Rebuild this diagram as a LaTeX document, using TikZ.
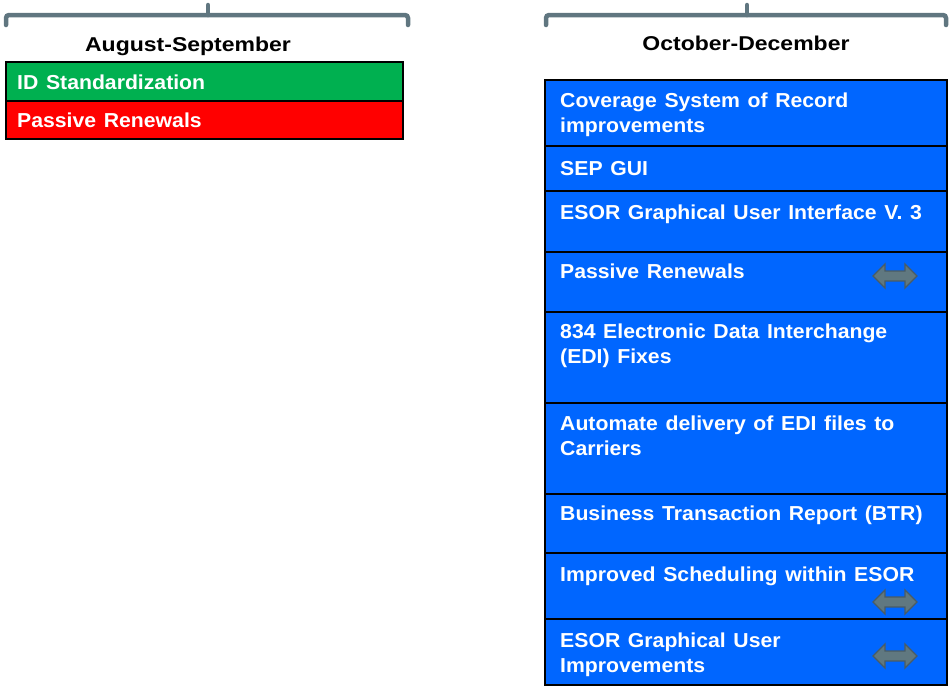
\documentclass[tikz,border=0pt]{standalone}
\usepackage{fontspec}
\usetikzlibrary{shapes.arrows}
\newfontfamily\boxfont{Liberation Sans}[FakeStretch=1.05,WordSpace=1.3]
\newfontfamily\headfont{Liberation Sans}[FakeStretch=1.15]
\definecolor{bluebox}{RGB}{0,102,255}
\definecolor{greenbox}{RGB}{0,176,80}
\definecolor{redbox}{RGB}{255,0,0}
\definecolor{bracegray}{RGB}{96,118,128}
\definecolor{arrowfill}{RGB}{96,120,128}
\definecolor{arrowline}{RGB}{74,92,100}
\begin{document}
\begin{tikzpicture}[x=1pt,y=-1pt,
  brace/.style={draw=bracegray,line width=4.5pt,line cap=round,rounded corners=3pt},
  head/.style={font=\headfont\bfseries\fontsize{20}{24}\selectfont,anchor=base,inner sep=0pt},
  cell/.style={rectangle,draw=black,line width=2pt,inner sep=0pt,outer sep=0pt,anchor=north west},
  txt/.style={anchor=base west,inner sep=0pt,text=white,font=\boxfont\bfseries\fontsize{20.2}{25.5}\selectfont},
  dblarrow/.style={double arrow,draw=arrowline,fill=arrowfill,line width=1.3pt,minimum height=44pt,inner sep=4.3pt,double arrow head extend=7pt}
]
\useasboundingbox (0,0) rectangle (949,686);

% braces
\draw[brace] (6,25) -- (6,15) -- (408,15) -- (408,25);
\draw[brace] (208,15) -- (208,5);
\draw[brace] (546,25) -- (546,15) -- (946,15) -- (946,25);
\draw[brace] (747,15) -- (747,5);

% headings
\node[head] (h1) at (188,51) {August-September};
\node[head] (h2) at (746,50) {October-December};

% left column
\node[cell,fill=greenbox,minimum width=397pt,minimum height=39pt] (l1) at (6,62) {};
\node[cell,fill=redbox,minimum width=397pt,minimum height=38pt] (l2) at (6,101) {};
\node[txt] (lt1) at ([xshift=11pt,yshift=-27pt]l1.north west) {ID Standardization};
\node[txt] (lt2) at ([xshift=11pt,yshift=-26pt]l2.north west) {Passive Renewals};

% right column
\node[cell,fill=bluebox,minimum width=402pt,minimum height=66pt] (c1) at (545,80) {};
\node[cell,fill=bluebox,minimum width=402pt,minimum height=45pt] (c2) at (545,146) {};
\node[cell,fill=bluebox,minimum width=402pt,minimum height=61pt] (c3) at (545,191) {};
\node[cell,fill=bluebox,minimum width=402pt,minimum height=60pt] (c4) at (545,252) {};
\node[cell,fill=bluebox,minimum width=402pt,minimum height=91pt] (c5) at (545,312) {};
\node[cell,fill=bluebox,minimum width=402pt,minimum height=91pt] (c6) at (545,403) {};
\node[cell,fill=bluebox,minimum width=402pt,minimum height=59pt] (c7) at (545,494) {};
\node[cell,fill=bluebox,minimum width=402pt,minimum height=66pt] (c8) at (545,553) {};
\node[cell,fill=bluebox,minimum width=402pt,minimum height=66pt] (c9) at (545,619) {};

\node[txt] (t1) at ([xshift=15pt,yshift=-27pt]c1.north west) {\parbox[t]{385pt}{\raggedright Coverage System of Record\\improvements}};
\node[txt] (t2) at ([xshift=15pt,yshift=-29pt]c2.north west) {SEP GUI};
\node[txt] (t3) at ([xshift=15pt,yshift=-28pt]c3.north west) {ESOR Graphical User Interface V. 3};
\node[txt] (t4) at ([xshift=15pt,yshift=-26pt]c4.north west) {Passive Renewals};
\node[txt] (t5) at ([xshift=15pt,yshift=-26pt]c5.north west) {\parbox[t]{385pt}{\raggedright 834 Electronic Data Interchange\\(EDI) Fixes}};
\node[txt] (t6) at ([xshift=15pt,yshift=-27pt]c6.north west) {\parbox[t]{385pt}{\raggedright Automate delivery of EDI files to\\Carriers}};
\node[txt] (t7) at ([xshift=15pt,yshift=-26pt]c7.north west) {Business Transaction Report (BTR)};
\node[txt] (t8) at ([xshift=15pt,yshift=-28pt]c8.north west) {Improved Scheduling within ESOR};
\node[txt] (t9) at ([xshift=15pt,yshift=-28pt]c9.north west) {\parbox[t]{385pt}{\raggedright ESOR Graphical User\\Improvements}};

% double arrows
\node[dblarrow] (a1) at (895,276) {};
\node[dblarrow] (a2) at (895,602) {};
\node[dblarrow] (a3) at (895,656) {};
\end{tikzpicture}
\end{document}
